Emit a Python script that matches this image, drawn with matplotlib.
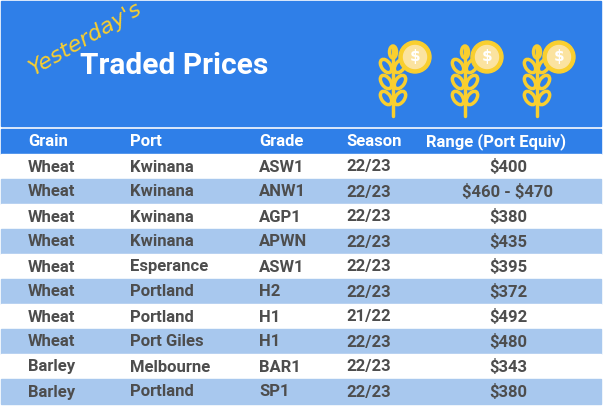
import matplotlib
matplotlib.use("Agg")
import matplotlib.pyplot as plt
import matplotlib.patches as mpatches

plt.rcParams["text.parse_math"] = False

BLUE = "#2f7fe8"
LIGHT = "#a8c8ee"
TXT = "#4d4d4d"
GOLD = "#f9cf2f"
PALE = "#fbe3a0"

columns = ["Grain", "Port", "Grade", "Season", "Range (Port Equiv)"]
grains = ["Wheat"] * 8 + ["Barley"] * 2
ports = ["Kwinana", "Kwinana", "Kwinana", "Kwinana", "Esperance",
         "Portland", "Portland", "Port Giles", "Melbourne", "Portland"]
grades = ["ASW1", "ANW1", "AGP1", "APWN", "ASW1", "H2", "H1", "H1", "BAR1", "SP1"]
seasons = ["22/23"] * 6 + ["21/22"] + ["22/23"] * 3
ranges = ["$400", "$460 - $470", "$380", "$435", "$395", "$372", "$492",
          "$480", "$343", "$380"]

fig = plt.figure(figsize=(6.04, 4.08), dpi=100)
ax = fig.add_axes([0, 0, 1, 1])
ax.set_xlim(0, 604)
ax.set_ylim(408, 0)
ax.axis("off")

# banner
ax.add_patch(mpatches.Rectangle((1, 1), 600, 125, color=BLUE))
ax.text(80, 66, "Traded Prices", color="white", fontsize=21.5, fontweight="bold",
        family="Roboto", va="center")
ax.text(34, 76, "Yesterday's", color=GOLD, fontsize=16, style="italic",
        family=["Liberation Sans Narrow", "DejaVu Sans"], rotation=30,
        va="baseline", ha="left", rotation_mode="anchor", zorder=6)


def wheat_icon(cx):
    # stem
    ax.plot([cx, cx], [48, 116], color=GOLD, lw=2.5, solid_capstyle="round")
    for yy in (66, 82, 98):
        for side in (-1, 1):
            e = mpatches.Ellipse((cx + side * 7, yy), 9, 15,
                                 angle=side * 35, fill=False, ec=GOLD, lw=2.5)
            ax.add_patch(e)
    top = mpatches.Ellipse((cx, 52), 7, 12, fill=False, ec=GOLD, lw=2.5)
    ax.add_patch(top)
    ax.add_patch(mpatches.Circle((cx + 22, 57), 16, color=GOLD, zorder=3))
    ax.add_patch(mpatches.Circle((cx + 22, 57), 11.5, color=PALE, zorder=4))
    ax.text(cx + 22, 57, "$", color="white", fontsize=11, fontweight="bold",
            ha="center", va="center", zorder=5)


for cx in (393, 465, 537):
    wheat_icon(cx)

# header row
col_x = [28, 130, 259, 346, 426]
ax.add_patch(mpatches.Rectangle((1, 129), 600, 25, color=BLUE))
for x, c in zip(col_x, columns):
    ax.text(x, 142, c, color="white", fontsize=12, fontweight="bold",
            family="Roboto", va="center")

row_h = 25
for i in range(len(grains)):
    y0 = 154 + i * row_h
    ax.add_patch(mpatches.Rectangle((1, y0), 600, row_h,
                                    color=LIGHT if i % 2 else "white"))
    yc = y0 + row_h / 2 + 0.5
    for x, v in zip(col_x[:4], [grains[i], ports[i], grades[i], seasons[i]]):
        ax.text(x, yc, v, color=TXT, fontsize=12, fontweight="bold",
                family="Roboto", va="center")
    ax.text(508, yc, ranges[i], color=TXT, fontsize=12, fontweight="bold",
            family="Roboto", va="center", ha="center")

fig.savefig("out.png", dpi=100)
